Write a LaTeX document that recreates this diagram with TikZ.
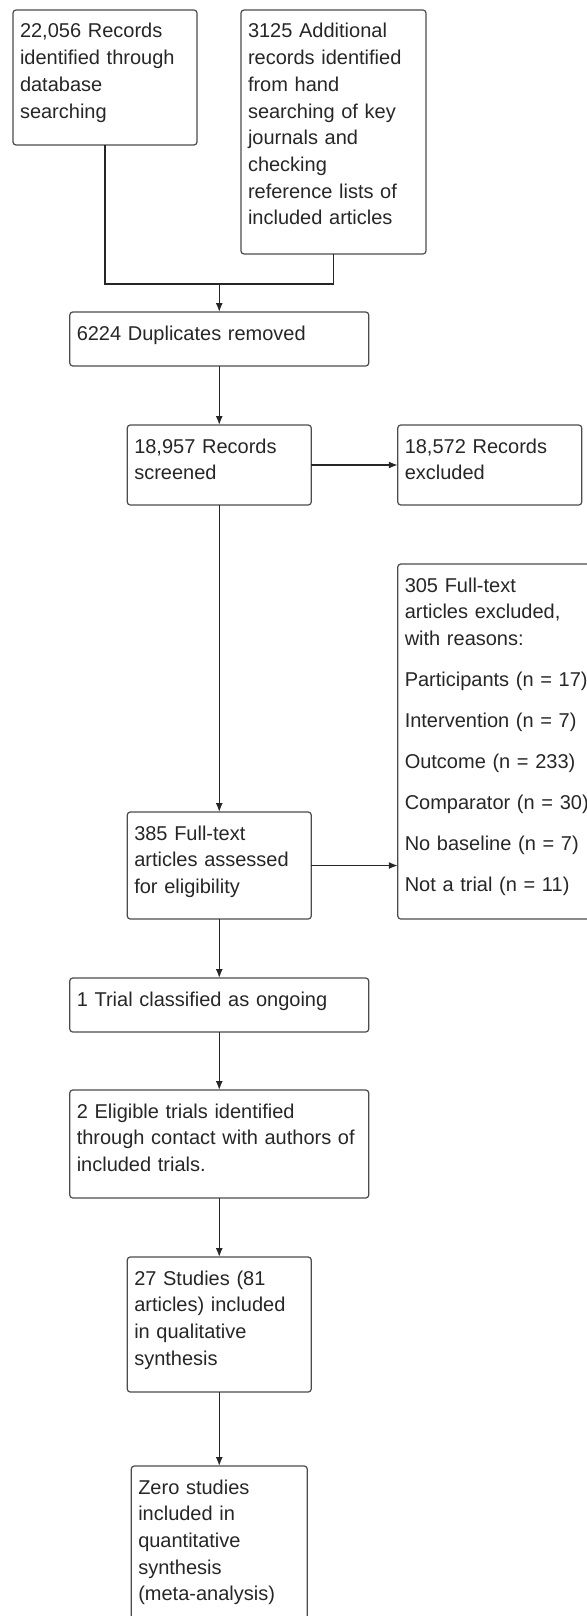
\documentclass[tikz,border=0pt]{standalone}
\usepackage{fontspec}
\setmainfont{Liberation Sans}
\usepackage{tikz}
\usetikzlibrary{arrows.meta,positioning,calc}
\tikzstyle{stage}=[draw=black!70,line width=1.2pt,rounded corners=3pt,outer sep=0pt,inner xsep=7pt,inner ysep=0pt,text height=28pt,align=left,text=black!85,font=\fontsize{20}{26.7}\selectfont]
\tikzstyle{link}=[draw=black!85,line width=1.3pt,-{Latex[length=9pt,width=7pt]}]
\tikzstyle{wire}=[draw=black!85,line width=1.3pt]

\begin{document}
\begin{tikzpicture}
\useasboundingbox (0,0) rectangle (586pt,-1616pt);
\node [stage,anchor=north west,text width=170pt,text depth=107pt] (ident) at (13pt,-10pt)
  {22,056 Records\\identified through\\database\\searching};
\node [stage,right=44pt of ident.north east,anchor=north west,text width=171pt,text depth=216pt] (hand)
  {3125 Additional\\records identified\\from hand\\searching of key\\journals and\\checking\\reference lists of\\included articles};
\coordinate (join) at ($(ident.south)!0.5!(hand.south)+(0,-84.5pt)$);
\node [stage,below=28pt of join,text width=285pt,text depth=26pt] (dup) {6224 Duplicates removed};
\node [stage,below=59pt of dup,text width=170pt,text depth=52pt] (screen) {18,957 Records\\screened};
\node [stage,right=86.5pt of screen,text width=170pt,text depth=52pt] (recex) {18,572 Records\\excluded};
\node [stage,below=307pt of screen,text width=170pt,text depth=79pt] (full) {385 Full-text\\articles assessed\\for eligibility};
\node [stage,right=86.5pt of full.south east,anchor=south west,text width=200pt,text depth=327pt] (fullex)
  {305 Full-text\\articles excluded,\\with reasons:\\[14.3pt]Participants (n = 17)\\[14.3pt]Intervention (n = 7)\\[14.3pt]Outcome (n = 233)\\[14.3pt]Comparator (n = 30)\\[14.3pt]No baseline (n = 7)\\[14.3pt]Not a trial (n = 11)};
\node [stage,below=59pt of full,text width=285pt,text depth=26pt] (ongo) {1 Trial classified as ongoing};
\node [stage,below=58pt of ongo,text width=285pt,text depth=80pt] (elig)
  {2 Eligible trials identified\\through contact with authors of\\included trials.};
\node [stage,below=59pt of elig,text width=170pt,text depth=107pt] (qual)
  {27 Studies (81\\articles) included\\in qualitative\\synthesis};
\node [stage,below=74pt of qual,text width=162pt,text depth=150pt] (quant)
  {Zero studies\\included in\\quantitative\\synthesis\\(meta-analysis)};
\draw [wire] (ident.south) -- (ident.south |- join) -- (hand.south |- join) -- (hand.south);
\draw [link] (join) -- (dup.north);
\draw [link] (dup) -- (screen);
\draw [link] (screen) -- (recex);
\draw [link] (screen) -- (full);
\draw [link] (full) -- (fullex.west |- full.east);
\draw [link] (full) -- (ongo);
\draw [link] (ongo) -- (elig);
\draw [link] (elig) -- (qual);
\draw [link] (qual) -- (quant);
\end{tikzpicture}
\end{document}
